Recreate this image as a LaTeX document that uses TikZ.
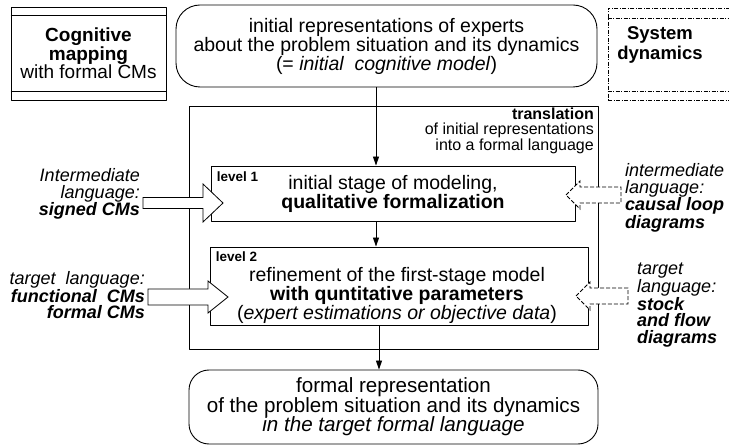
\documentclass[tikz,border=0pt]{standalone}
\usepackage{fontspec}
\setmainfont{Liberation Sans}
\usetikzlibrary{arrows.meta,calc}

\newcommand\bodytxt{\fontsize{19.5}{19}\selectfont}
\newcommand\lasttxt{\fontsize{20.6}{19.5}\selectfont}
\newcommand\headtxt{\fontsize{19}{18.5}\selectfont}
\newcommand\sdtxt{\fontsize{18.5}{20}\selectfont}
\newcommand\sidetxt{\fontsize{18}{16.5}\selectfont}
\newcommand\notetxt{\fontsize{16}{14.5}\selectfont}
\newcommand\tagtxt{\fontsize{13.5}{14}\selectfont\bfseries}

\tikzset{
  box/.style={draw,line width=0.9pt,fill=white,inner sep=0pt},
  roundbox/.style={box,rounded corners=24pt},
  txt/.style={inner sep=0pt,align=center,font=\bodytxt},
  tag/.style={inner sep=0pt,anchor=north west,font=\tagtxt},
  side/.style={inner sep=0pt,font=\sidetxt},
  link/.style={line width=0.9pt},
  rule/.style={line width=0.8pt},
  dashdot/.style={dash pattern=on 4pt off 1.5pt on 1pt off 1.5pt},
  blockarrow/.style={line width=0.8pt,fill=white,line join=miter},
  dashedarrow/.style={blockarrow,line width=0.9pt,dash pattern=on 4pt off 2pt}
}

\begin{document}
\begin{tikzpicture}[x=1pt,y=-1pt,>={Triangle[length=9pt,width=6pt]},line join=round]
  \useasboundingbox (0,0) rectangle (729,446);
  % side headings
  \node[box,minimum width=155pt,minimum height=93pt,align=center,font=\headtxt] (cogmap) at (88.5,53.5)
    {\textbf{Cognitive}\\\textbf{mapping}\\with formal CMs};
  \draw[rule] ([yshift=-9pt]cogmap.north west) -- ([yshift=-9pt]cogmap.north east);
  \draw[rule] ([yshift=9pt]cogmap.south west) -- ([yshift=9pt]cogmap.south east);
  \node[box,line width=0.9pt,dashdot,minimum width=127pt,minimum height=92pt] (sysdyn) at (671.5,54) {};
  \draw[rule,line width=0.9pt,dashdot] ([yshift=-11pt]sysdyn.north west) -- ([yshift=-11pt]sysdyn.north east);
  \draw[rule,line width=0.9pt,dashdot] ([yshift=9pt]sysdyn.south west) -- ([yshift=9pt]sysdyn.south east);
  \node[txt,font=\sdtxt] (sdlabel) at (660,45) {\textbf{System}\\\textbf{dynamics}};
  % main column
  \node[roundbox,txt,minimum width=421pt,minimum height=82pt] (init) at (386.5,46)
    {initial representations of experts\\about the problem situation and its dynamics\\(= \textit{initial\ \ cognitive model})};
  \node[box,minimum width=409pt,minimum height=243pt] (frame) at (393.5,227.5) {};
  \node[txt,font=\notetxt,align=right,anchor=east] (transl) at (594,131)
    {\textbf{translation}\\of initial representations\\into a formal language};
  \node[box,txt,minimum width=364pt,minimum height=55pt] (lvl1) at (393,193.5)
    {initial stage of modeling,\\\textbf{qualitative formalization}};
  \node[tag] (tag1) at ([shift={(6pt,-6pt)}]lvl1.north west) {level 1};
  \node[box,minimum width=378pt,minimum height=78pt] (lvl2) at (399,286) {};
  \node[txt] (lvl2txt) at (397,295)
    {refinement of the first-stage model\\\textbf{with quntitative parameters}\\(\textit{expert estimations or objective data})};
  \node[tag] (tag2) at ([shift={(6pt,-5pt)}]lvl2.north west) {level 2};
  \node[roundbox,rounded corners=20pt,txt,font=\lasttxt,minimum width=409pt,minimum height=74pt] (final) at (393.5,407)
    {formal representation\\of the problem situation and its dynamics\\\textit{in the target formal language}};
  \coordinate (ax) at (376,0);
  \coordinate (bx) at (379,0);
  \draw[->,link] (init.south -| ax) -- (lvl1.north -| ax);
  \draw[->,link] (lvl1.south -| ax) -- (lvl2.north -| ax);
  \draw[->,link] (lvl2.south -| bx) -- (final.north -| bx);
  % languages
  \node[side,align=right,anchor=east] (ilang) at (140,194)
    {\textit{Intermediate}\\\textit{language:}\\\textbf{\textit{signed CMs}}};
  \node[side,align=right,anchor=east] (tlang) at (145,295)
    {\textit{target\ \ language:}\\\textbf{\textit{functional\ \ CMs}}\\\textbf{\textit{formal CMs}}};
  \node[side,align=left,anchor=west] (rlang1) at (625,198)
    {\textit{intermediate}\\\textit{language:}\\\textbf{\textit{causal loop}}\\\textbf{\textit{diagrams}}};
  \node[side,align=left,anchor=west] (rlang2) at (637,305)
    {\textit{target}\\\textit{language:}\\\textbf{\textit{stock}}\\\textbf{\textit{and flow}}\\\textbf{\textit{diagrams}}};
  \coordinate (tip1) at (223,203);
  \coordinate (tip2) at (228,297);
  \coordinate (tip3) at (566,195);
  \coordinate (tip4) at (576,296);
  \draw[blockarrow] (tip1) -- ++(-20,-19) -- ++(0,13.5) -- ++(-60,0) -- ++(0,11) -- ++(60,0) -- ++(0,13.5) -- cycle;
  \draw[blockarrow] (tip2) -- ++(-20,-16) -- ++(0,8) -- ++(-60,0) -- ++(0,16) -- ++(60,0) -- ++(0,8) -- cycle;
  \draw[dashedarrow] (tip3) -- ++(14,-14) -- ++(0,6) -- ++(41,0) -- ++(0,16) -- ++(-41,0) -- ++(0,6) -- cycle;
  \draw[dashedarrow] (tip4) -- ++(14,-14) -- ++(0,6) -- ++(38,0) -- ++(0,16) -- ++(-38,0) -- ++(0,6) -- cycle;
\end{tikzpicture}
\end{document}
